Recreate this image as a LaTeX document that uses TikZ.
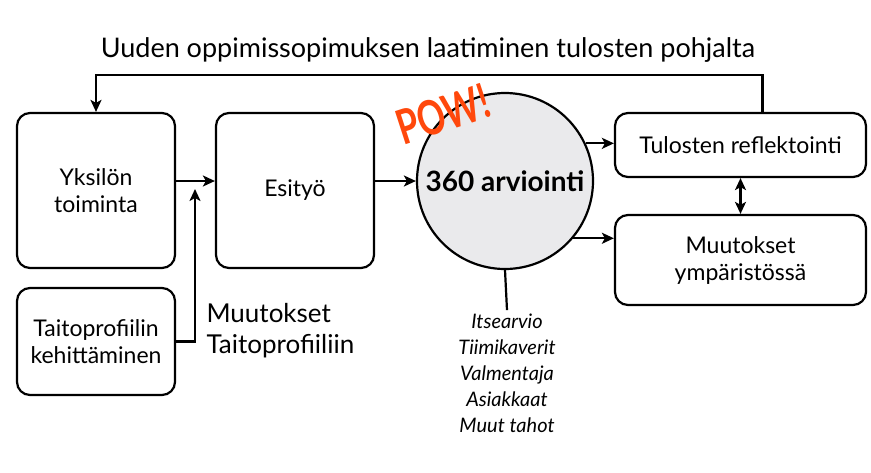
\documentclass[tikz,border=0pt]{standalone}
\usepackage{fontspec}
\setmainfont{Lato}
\usetikzlibrary{arrows.meta,positioning}
\definecolor{powred}{RGB}{255,72,12}
\definecolor{circgray}{RGB}{234,234,236}

\begin{document}
\begin{tikzpicture}[x=1pt,y=-1pt,font=\fontsize{23}{27}\selectfont,
box/.style={draw,line width=2.2pt,rounded corners=13pt,fill=white,align=center,inner sep=4pt},
arr/.style={-{Stealth[length=12pt,width=11pt,inset=3pt]},line width=2.2pt},
both/.style={{Stealth[length=12pt,width=11pt,inset=3pt]}-{Stealth[length=12pt,width=11pt,inset=3pt]},line width=2.2pt}]
\useasboundingbox(0,0)rectangle(871,472);

\node[font=\fontsize{27}{31}\selectfont](title)at(428,50){Uuden oppimissopimuksen laatiminen tulosten pohjalta};
\node[box,minimum width=158pt,minimum height=155pt](yks)at(96,190.5){Yksilön\\toiminta};
\node[box,minimum width=158pt,minimum height=155pt](esi)at(295,190.5){Esityö};
\node[box,minimum width=158pt,minimum height=107pt](tai)at(96,341.5){Taitoprofiilin\\kehittäminen};
\node[anchor=west,align=left,font=\fontsize{26}{31}\selectfont](chg)at(203,331){Muutokset\\Taitoprofiiliin};
\node[circle,draw,line width=2.2pt,fill=circgray,minimum size=176pt,inner sep=0pt](arv)at(505,181){\bfseries\fontsize{28}{32}\selectfont 360 arviointi};
\node[text=powred,rotate=18,xscale=.72,font=\bfseries\fontsize{48}{48}\selectfont](pow)at(443,114){POW!};
\node[align=center,font=\itshape\fontsize{20}{26}\selectfont](src)at(507,373){Itsearvio\\Tiimikaverit\\Valmentaja\\Asiakkaat\\Muut tahot};
\node[box,minimum width=251pt,minimum height=64pt](tul)at(740.5,145){Tulosten reflektointi};
\node[box,minimum width=251pt,minimum height=90pt](mut)at(740.5,260){Muutokset\\ympäristössä};

\coordinate(back)at(96,75);
\coordinate(join)at(195,189);
\draw[arr](yks.east|-arv)--(esi.west|-arv);
\draw[arr](tai.east)-|(join);
\draw[arr](esi.east|-arv)--(arv.west);
\draw[line width=2.2pt](arv.south)--(src.north);
\draw[arr](arv.25)--(arv.25-|tul.west);
\draw[arr](arv.-40)--(arv.-40-|mut.west);
\draw[both](tul.south)--(mut.north);
\draw[arr]([xshift=22pt]tul.north)|-(back)--(yks.north);
\end{tikzpicture}
\end{document}
